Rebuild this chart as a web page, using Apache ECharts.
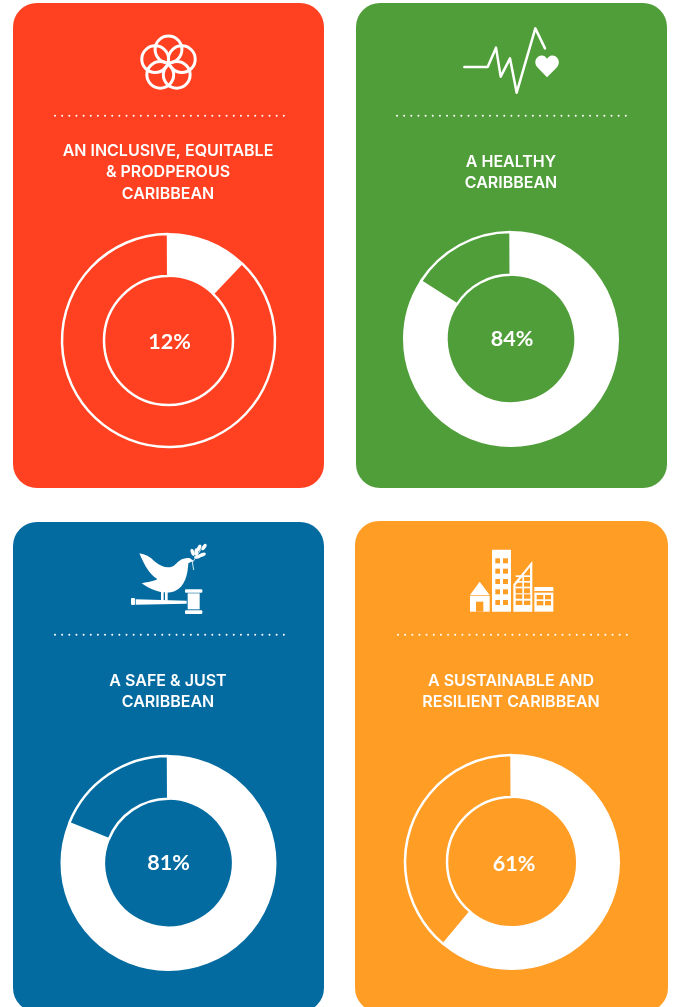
<!DOCTYPE html>
<html>
<head>
<meta charset="utf-8">
<title>Caribbean</title>
<script src="https://cdn.jsdelivr.net/npm/echarts@6/dist/echarts.min.js"></script>
<style>
  html, body { margin: 0; padding: 0; background: #fff; }
  #chart { width: 675px; height: 1007px; }
</style>
</head>
<body>
<div id="chart"></div>
<script>
// data
const titles = [
  ["AN INCLUSIVE, EQUITABLE", "& PRODPEROUS", "CARIBBEAN"],
  ["A HEALTHY", "CARIBBEAN"],
  ["A SAFE & JUST", "CARIBBEAN"],
  ["A SUSTAINABLE AND", "RESILIENT CARIBBEAN"],
];
const values = [12, 84, 81, 61];

// layout
const colors = ["#FF4021", "#509E3A", "#046BA1", "#FF9D25"];
const cards = [
  [13, 3, 311, 485],
  [356, 3, 311, 485],
  [13, 522, 311, 490],
  [355, 521, 313, 491],
];
const centers = [[168.5, 340.5], [511, 339], [168.5, 863], [512, 862]];
const radii = [[64.5, 106.5], [64.2, 107], [64.2, 107], [65, 107]];
const labelOffsets = [[1, 1.5], [1, 0], [0, 0], [2, 2]];
const dotLines = [[55, 284.5, 115.7], [397, 626.5, 115.7], [55, 284.5, 634.7], [398, 627.5, 634.7]];
const titleTops = [150.7, 161.7, 680.7, 680.7];
const titleX = [168, 511, 168, 511];
const fontStack = "Inter, 'Noto Sans', sans-serif";

const white = { fill: "#fff" };

// the graphic component has no plain path type, so the two free shapes get registered
echarts.graphic.registerShape("heart", echarts.graphic.extendPath(
  "M261,157 L232,127 C216,106 235,87 250,92 C256,94 260,98 261,102 C263,98 267,94 272,92 C288,87 306,106 291,127 Z", {}
));
echarts.graphic.registerShape("dove", echarts.graphic.extendPath(
  "M43,40 C60,42 75,50 90,65 C110,82 135,88 150,74 C165,58 180,52 195,55 L205,62 L190,70 C188,105 180,140 150,153 C125,163 90,158 50,130 C70,125 85,125 97,117 C75,105 60,80 43,40 Z", {}
));

function rect(x, y, w, h, fill, r) {
  return { type: "rect", shape: { x, y, width: w, height: h, r: r || 0 }, style: { fill: fill } };
}
function poly(points, fill) {
  return { type: "polygon", shape: { points }, style: { fill: fill } };
}

// icons are drawn in the 3x coordinates of a zoomed crop, then scaled down
function flowerIcon() {
  const out = [];
  const cx = 168.5, cy = 63.5, dist = 14;
  for (let i = 0; i < 5; i++) {
    const a = -Math.PI / 2 + (i * 2 * Math.PI) / 5;
    out.push({
      type: "circle",
      shape: { cx: cx + dist * Math.cos(a), cy: cy + dist * Math.sin(a), r: 13.4 },
      style: { fill: "none", stroke: "#fff", lineWidth: 3 },
    });
  }
  return out;
}

function pulseIcon() {
  return {
    type: "group", x: 460, y: 25, scaleX: 1 / 3, scaleY: 1 / 3,
    children: [
      {
        type: "polyline",
        shape: { points: [[13, 126], [83, 126], [108, 68], [122, 155], [150, 100], [170, 203], [226, 10], [255, 70]] },
        style: { fill: "none", stroke: "#fff", lineWidth: 7.5, lineCap: "round", lineJoin: "round" },
      },
      { type: "heart", style: white },
    ],
  };
}

function doveIcon() {
  const leaves = [[203, 37, -20], [222, 24, 25], [237, 21, 35], [232, 44, 70], [218, 50, 75], [214, 36, 0]];
  return {
    type: "group", x: 125, y: 540, scaleX: 1 / 3, scaleY: 1 / 3,
    children: [
      { type: "dove", style: white },
      rect(108, 150, 8, 32, "#fff"),
      rect(120, 150, 8, 32, "#fff"),
      poly([[32, 178], [185, 182], [185, 191], [32, 194]], "#fff"),
      rect(18, 174, 12, 21, "#fff", 3),
      rect(180, 148, 52, 10, "#fff", 3),
      rect(188, 160, 36, 48, "#fff"),
      rect(180, 211, 52, 11, "#fff", 3),
      {
        type: "polyline",
        shape: { points: [[193, 60], [204, 65], [228, 28]] },
        style: { fill: "none", stroke: "#fff", lineWidth: 2.5 },
      },
      { type: "line", shape: { x1: 202, y1: 66, x2: 206, y2: 90 }, style: { stroke: "#fff", lineWidth: 2.5 } },
    ].concat(leaves.map((l) => ({
      type: "circle",
      x: l[0], y: l[1], scaleX: 0.5, rotation: (-l[2] * Math.PI) / 180,
      shape: { cx: 0, cy: 0, r: 11 },
      style: white,
    }))),
  };
}

function cityIcon() {
  const bg = colors[3];
  const kids = [
    // house
    poly([[15, 150], [44, 110], [74, 150]], "#fff"),
    rect(15, 152, 59, 48, "#fff"),
    rect(33, 170, 22, 30, bg),
    // tower
    rect(81, 14, 57, 186, "#fff"),
    // slanted block
    poly([[145, 200], [145, 118], [202, 48], [202, 200]], "#fff"),
    poly([[152, 145], [152, 121], [195, 66], [195, 145]], bg),
    rect(152, 91, 44, 5, "#fff"),
    rect(152, 108, 44, 5, "#fff"),
    rect(152, 125, 44, 5, "#fff"),
    rect(172, 91, 5, 54, "#fff"),
    // low block
    rect(208, 126, 57, 74, "#fff"),
    rect(208, 138, 57, 5, bg),
  ];
  [40, 71, 102, 133, 165].forEach((y) => {
    kids.push(rect(91, y, 14, 15, bg), rect(114, y, 15, 15, bg));
  });
  [148, 167].forEach((y) => {
    kids.push(rect(152, y, 20, 13, bg), rect(177, y, 19, 13, bg));
  });
  [150, 168].forEach((y) => {
    kids.push(rect(215, y, 20, 13, bg), rect(240, y, 18, 13, bg));
  });
  return { type: "group", x: 465, y: 545, scaleX: 1 / 3, scaleY: 1 / 3, children: kids };
}

const graphics = [];
cards.forEach((c, i) => {
  graphics.push(rect(c[0], c[1], c[2], c[3], colors[i], 24));
});
dotLines.forEach((d) => {
  graphics.push({
    type: "line",
    shape: { x1: d[0], y1: d[2], x2: d[1], y2: d[2] },
    style: { stroke: "#fff", lineWidth: 2, lineDash: [0.01, 7.14], lineCap: "round" },
  });
});
titles.forEach((lines, i) => {
  lines.forEach((line, j) => {
    graphics.push({
      type: "text",
      x: titleX[i],
      y: titleTops[i] + j * 21.7,
      style: {
        text: line,
        fill: "#fff",
        font: "600 16px " + fontStack,
        textAlign: "center",
        textVerticalAlign: "middle",
      },
    });
  });
});
graphics.push(...flowerIcon(), pulseIcon(), doveIcon(), cityIcon());

const series = values.map((v, i) => ({
  type: "pie",
  center: centers[i],
  radius: radii[i],
  startAngle: 90,
  padAngle: 0.5,
  silent: true,
  animation: false,
  labelLine: { show: false },
  emphasis: { disabled: true },
  data: [
    {
      value: v,
      itemStyle: { color: "#fff", borderColor: "#fff", borderWidth: 2 },
      label: {
        show: true,
        position: "center",
        formatter: v + "%",
        offset: labelOffsets[i],
        color: "#fff",
        fontFamily: "Lato",
        fontWeight: "bold",
        fontSize: 21.5,
      },
    },
    {
      value: 100 - v,
      itemStyle: { color: colors[i], borderColor: "#fff", borderWidth: 2.5 },
      label: { show: false },
    },
  ],
}));

const chart = echarts.init(document.getElementById("chart"));
chart.setOption({
  backgroundColor: "#fff",
  animation: false,
  graphic: { elements: graphics },
  series: series,
});
</script>
</body>
</html>
